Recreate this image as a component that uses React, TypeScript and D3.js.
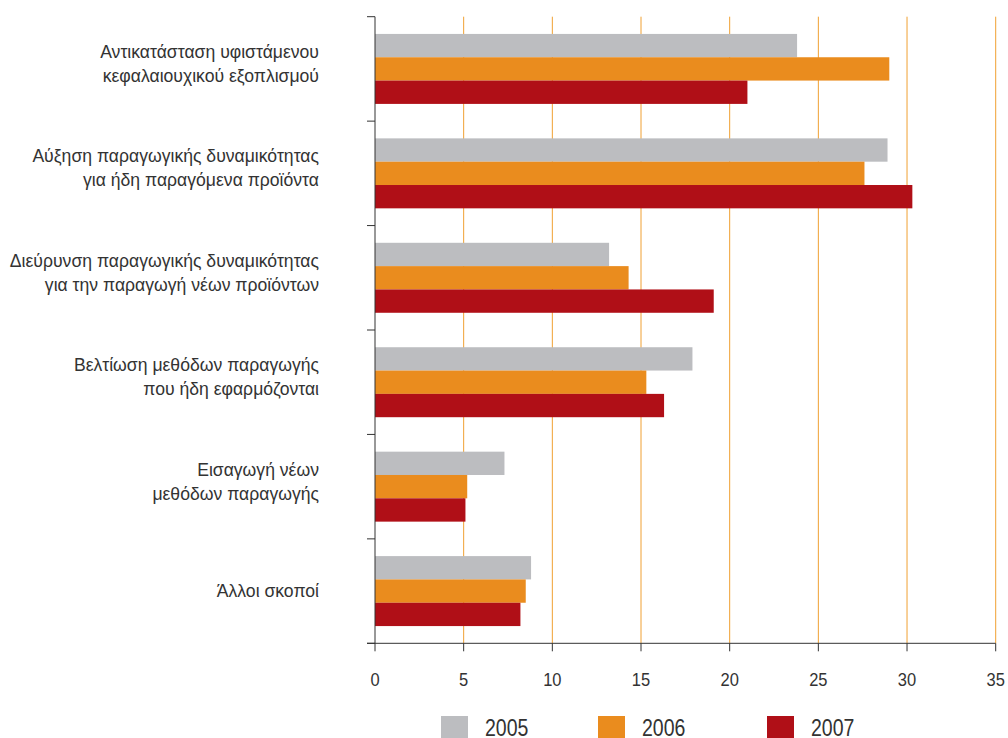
import React from "react";
import * as d3 from "d3";

const categories: string[][] = [
  ["Αντικατάσταση υφιστάμενου", "κεφαλαιουχικού εξοπλισμού"],
  ["Αύξηση παραγωγικής δυναμικότητας", "για ήδη παραγόμενα προϊόντα"],
  ["Διεύρυνση παραγωγικής δυναμικότητας", "για την παραγωγή νέων προϊόντων"],
  ["Βελτίωση μεθόδων παραγωγής", "που ήδη εφαρμόζονται"],
  ["Εισαγωγή νέων", "μεθόδων παραγωγής"],
  ["Άλλοι σκοποί"],
];
const years = ["2005", "2006", "2007"];
const values2005 = [23.8, 28.9, 13.2, 17.9, 7.3, 8.8];
const values2006 = [29.0, 27.6, 14.3, 15.3, 5.2, 8.5];
const values2007 = [21.0, 30.3, 19.1, 16.3, 5.1, 8.2];
const xTicks = [0, 5, 10, 15, 20, 25, 30, 35];

const series = [values2005, values2006, values2007];
const colors = ["#BCBDC0", "#EA8C1E", "#B00F17"];

export default function App() {
  const W = 1008;
  const H = 738;
  const x0 = 375;
  const x1 = 995.7;
  const yTop = 16.7;
  const yBot = 643.3;
  const x = d3.scaleLinear().domain([0, 35]).range([x0, x1]);
  const keys = categories.map((_, i) => String(i));
  const y = d3.scaleBand<string>().domain(keys).range([yTop, yBot]).paddingInner(0.33).paddingOuter(0.165);
  const yi = d3.scaleBand<string>().domain(years).range([0, y.bandwidth()]);
  const step = y.step();
  const font = "'Liberation Sans', Arial, sans-serif";
  const txt = "#333";
  const legendX = [441, 598, 767];

  return (
    <svg width={W} height={H} style={{ position: "absolute", left: 0, top: 0 }}>
      {xTicks.slice(1).map((t) => (
        <line key={"g" + t} x1={x(t)} x2={x(t)} y1={yTop} y2={yBot} stroke="#F0A032" strokeWidth={1} />
      ))}
      {keys.map((k, ci) =>
        years.map((yr, si) => (
          <rect
            key={k + yr}
            x={x(0)}
            y={(y(k) as number) + (yi(yr) as number)}
            width={x(series[si][ci]) - x(0)}
            height={yi.bandwidth()}
            fill={colors[si]}
          />
        ))
      )}
      {/* y axis */}
      <line x1={x0} x2={x0} y1={yTop} y2={yBot} stroke="#333" strokeWidth={1} />
      {d3.range(categories.length + 1).map((i) => (
        <line key={"yt" + i} x1={367} x2={x0} y1={yTop + i * step} y2={yTop + i * step} stroke="#333" strokeWidth={1} />
      ))}
      {/* x axis */}
      <line x1={367} x2={x1} y1={yBot} y2={yBot} stroke="#333" strokeWidth={1} />
      {xTicks.map((t) => (
        <g key={"xt" + t}>
          <line x1={x(t)} x2={x(t)} y1={yBot} y2={yBot + 8} stroke="#333" strokeWidth={1} />
          <text
            transform={`translate(${x(t)},686) scale(1,1.15)`}
            textAnchor="middle"
            fontFamily={font}
            fontSize={16.5}
            fill={txt}
          >
            {t}
          </text>
        </g>
      ))}
      {/* category labels */}
      {categories.map((lines, ci) => {
        const c = (y(keys[ci]) as number) + y.bandwidth() / 2;
        return (
          <text key={"c" + ci} textAnchor="end" fontFamily={font} fontSize={17.6} fill={txt}>
            {lines.length === 2 ? (
              <>
                <tspan x={319} y={c - 11}>{lines[0]}</tspan>
                <tspan x={319} y={c + 13}>{lines[1]}</tspan>
              </>
            ) : (
              <tspan x={319} y={c + 6}>{lines[0]}</tspan>
            )}
          </text>
        );
      })}
      {/* legend */}
      {years.map((yr, i) => (
        <g key={"l" + yr}>
          <rect x={legendX[i]} y={716} width={27} height={22} fill={colors[i]} />
          <text
            transform={`translate(${legendX[i] + 44},735.5) scale(1,1.22)`}
            fontFamily={font}
            fontSize={19.5}
            fill={txt}
          >
            {yr}
          </text>
        </g>
      ))}
    </svg>
  );
}
